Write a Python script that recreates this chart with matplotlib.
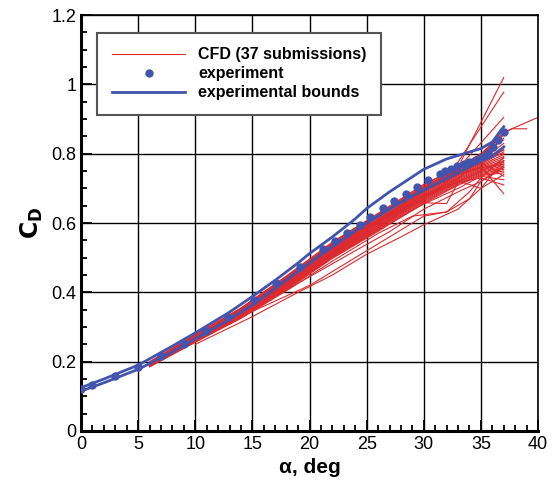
import matplotlib
matplotlib.use("Agg")
import matplotlib.pyplot as plt
from matplotlib.ticker import MultipleLocator

plt.rcParams['font.family'] = ['Liberation Sans', 'DejaVu Sans']

# experiment
exp_alpha = [0.0, 1.0, 3.0, 5.0, 7.0, 9.0, 10.9, 12.9, 15.1, 17.1, 19.2, 21.2, 22.2, 23.3,
             24.4, 25.3, 26.4, 27.4, 28.4, 29.4, 30.4, 31.4, 31.9, 32.4, 32.9, 33.5, 34.0,
             34.6, 35.1, 35.6, 36.1, 36.5, 37.0]
exp_cd = [0.120, 0.132, 0.158, 0.184, 0.215, 0.252, 0.288, 0.330, 0.378, 0.426, 0.472, 0.525,
          0.549, 0.570, 0.594, 0.618, 0.642, 0.663, 0.685, 0.704, 0.723, 0.741, 0.749, 0.757,
          0.764, 0.769, 0.776, 0.783, 0.790, 0.803, 0.819, 0.839, 0.862]

# experimental bounds
up_alpha = [0, 2, 5, 8, 10, 13, 15, 17, 19, 20, 22, 24, 25, 27, 30, 32, 34, 35, 36, 36.8, 37]
up_cd = [0.125, 0.150, 0.190, 0.245, 0.283, 0.343, 0.388, 0.435, 0.485, 0.512, 0.560, 0.612,
         0.642, 0.690, 0.755, 0.785, 0.805, 0.815, 0.834, 0.870, 0.878]
lo_alpha = [0, 2, 5, 8, 10, 13, 15, 17, 20, 22, 25, 28, 30, 33, 35, 36, 37]
lo_cd = [0.115, 0.139, 0.178, 0.228, 0.266, 0.322, 0.364, 0.412, 0.485, 0.532, 0.600, 0.660,
         0.695, 0.745, 0.780, 0.792, 0.820]

# CFD submissions, common alpha grid
cfd_alpha = [6, 10, 14, 18, 22, 26, 30, 33, 35, 37]
cfd_cd = [
    [0.200, 0.278, 0.355, 0.448, 0.545, 0.628, 0.712, 0.760, 0.790, 0.855],
    [0.199, 0.276, 0.354, 0.446, 0.543, 0.626, 0.709, 0.762, 0.795, 0.868],
    [0.198, 0.275, 0.352, 0.444, 0.540, 0.624, 0.706, 0.756, 0.786, 0.845],
    [0.197, 0.273, 0.350, 0.441, 0.538, 0.622, 0.703, 0.758, 0.800, 0.840],
    [0.196, 0.272, 0.349, 0.440, 0.536, 0.620, 0.700, 0.752, 0.780, 0.830],
    [0.195, 0.271, 0.347, 0.438, 0.534, 0.618, 0.699, 0.750, 0.782, 0.810],
    [0.195, 0.270, 0.346, 0.437, 0.532, 0.616, 0.697, 0.748, 0.776, 0.820],
    [0.194, 0.268, 0.344, 0.434, 0.529, 0.612, 0.693, 0.745, 0.772, 0.812],
    [0.193, 0.267, 0.342, 0.431, 0.526, 0.609, 0.690, 0.742, 0.770, 0.805],
    [0.192, 0.266, 0.340, 0.428, 0.523, 0.606, 0.687, 0.739, 0.767, 0.798],
    [0.191, 0.265, 0.338, 0.426, 0.520, 0.603, 0.684, 0.736, 0.764, 0.792],
    [0.190, 0.264, 0.337, 0.424, 0.518, 0.600, 0.681, 0.733, 0.761, 0.786],
    [0.190, 0.263, 0.335, 0.422, 0.515, 0.597, 0.678, 0.730, 0.758, 0.780],
    [0.189, 0.262, 0.334, 0.420, 0.513, 0.594, 0.675, 0.727, 0.755, 0.775],
    [0.188, 0.261, 0.332, 0.418, 0.510, 0.591, 0.672, 0.724, 0.752, 0.770],
    [0.188, 0.260, 0.331, 0.416, 0.508, 0.588, 0.669, 0.721, 0.749, 0.765],
    [0.187, 0.259, 0.330, 0.414, 0.505, 0.585, 0.666, 0.718, 0.746, 0.760],
    [0.186, 0.258, 0.328, 0.412, 0.503, 0.582, 0.663, 0.715, 0.743, 0.755],
    [0.186, 0.257, 0.327, 0.410, 0.500, 0.579, 0.660, 0.712, 0.740, 0.750],
    [0.185, 0.256, 0.326, 0.408, 0.498, 0.576, 0.657, 0.709, 0.737, 0.745],
    [0.192, 0.266, 0.339, 0.425, 0.517, 0.598, 0.676, 0.722, 0.700, 0.780],
    [0.190, 0.262, 0.333, 0.417, 0.508, 0.588, 0.668, 0.745, 0.775, 0.735],
    [0.194, 0.269, 0.343, 0.430, 0.524, 0.604, 0.680, 0.728, 0.790, 0.800],
    [0.189, 0.260, 0.330, 0.413, 0.502, 0.580, 0.655, 0.700, 0.735, 0.725],
    [0.196, 0.272, 0.346, 0.433, 0.527, 0.610, 0.692, 0.740, 0.760, 0.770],
]

# CFD submissions with their own alpha points
odd_alpha = [
    [6, 10, 15, 20, 25, 28, 30, 32, 34, 35, 37],
    [10, 15, 19, 22, 25, 28, 30, 33, 35, 37],
    [6, 10, 14, 18, 22, 26, 29, 32, 33, 35, 37],
    [6, 10, 14, 18, 22, 26, 29, 32, 34, 35, 37],
    [6, 10, 14, 18, 22, 26, 30, 32.7, 37],
    [6, 10, 14, 18, 22, 26, 30, 31.5, 37],
    [6, 10, 14, 18, 22, 26, 30, 33, 37],
    [6, 10, 14, 18, 22, 26, 30, 33, 35, 37, 37.7, 40],
    [6, 10, 14, 18, 22, 26, 30, 33, 35, 37, 37.7, 39],
    [6, 10, 14, 18, 22, 26, 30, 33, 35, 37],
    [8, 12, 16, 20, 24, 27, 30, 33, 35, 37],
    [6, 10, 14, 18, 22, 26, 30, 33, 35, 37],
]
odd_cd = [
    [0.190, 0.260, 0.345, 0.420, 0.520, 0.580, 0.620, 0.632, 0.670, 0.720, 0.760],
    [0.250, 0.330, 0.400, 0.450, 0.510, 0.560, 0.595, 0.640, 0.700, 0.740],
    [0.190, 0.262, 0.330, 0.412, 0.500, 0.585, 0.660, 0.656, 0.718, 0.750, 0.780],
    [0.188, 0.258, 0.325, 0.405, 0.490, 0.570, 0.620, 0.632, 0.690, 0.730, 0.790],
    [0.192, 0.266, 0.340, 0.428, 0.520, 0.605, 0.690, 0.742, 1.020],
    [0.191, 0.264, 0.337, 0.424, 0.516, 0.600, 0.682, 0.700, 0.978],
    [0.193, 0.267, 0.342, 0.430, 0.524, 0.608, 0.692, 0.758, 0.905],
    [0.197, 0.273, 0.350, 0.442, 0.538, 0.621, 0.703, 0.760, 0.800, 0.862, 0.872, 0.905],
    [0.196, 0.272, 0.348, 0.439, 0.535, 0.618, 0.700, 0.755, 0.795, 0.858, 0.872, 0.872],
    [0.194, 0.269, 0.345, 0.435, 0.530, 0.612, 0.694, 0.740, 0.762, 0.685],
    [0.225, 0.295, 0.370, 0.445, 0.520, 0.575, 0.640, 0.690, 0.720, 0.765],
    [0.191, 0.264, 0.336, 0.422, 0.512, 0.592, 0.672, 0.718, 0.730, 0.710],
]

red = '#dc2a2e'
blue = '#4254ae'

fig = plt.figure(figsize=(5.56, 4.87), dpi=100)
ax = fig.add_axes([0.1457, 0.115, 0.822, 0.854])

for i, cd in enumerate(cfd_cd):
    ax.plot(cfd_alpha, cd, color=red, lw=0.8,
            label='CFD (37 submissions)' if i == 0 else None)
for a, cd in zip(odd_alpha, odd_cd):
    ax.plot(a, cd, color=red, lw=0.8)

ax.plot(exp_alpha, exp_cd, 'o', color=blue, ms=5, label='experiment', zorder=5)
ax.plot(up_alpha, up_cd, color=blue, lw=2, label='experimental bounds', zorder=4)
ax.plot(lo_alpha, lo_cd, color=blue, lw=2, zorder=4)

ax.set_xlim(0, 40)
ax.set_ylim(0, 1.2)
ax.xaxis.set_major_locator(MultipleLocator(5))
ax.xaxis.set_minor_locator(MultipleLocator(1))
ax.yaxis.set_minor_locator(MultipleLocator(0.05))
ax.set_yticks([0, 0.2, 0.4, 0.6, 0.8, 1.0, 1.2])
ax.set_yticklabels(['0', '0.2', '0.4', '0.6', '0.8', '1', '1.2'])
ax.tick_params(which='both', direction='in', labelsize=13, width=1.3)
ax.tick_params(which='major', length=8)
ax.tick_params(which='minor', length=4)
ax.grid(True, which='major', color='black', lw=1)
for s in ax.spines.values():
    s.set_linewidth(1.2)
ax.spines['left'].set_linewidth(2.2)
ax.spines['bottom'].set_linewidth(2.2)

ax.set_xlabel('α, deg', fontsize=15, fontweight='bold')
ax.set_ylabel(r'$\mathbf{C_D}$', fontsize=17, fontweight='bold')

leg = ax.legend(loc='upper left', bbox_to_anchor=(0.036, 0.957),
                prop={'weight': 'bold', 'size': 11.5}, handlelength=4.6, labelspacing=0.25,
                handletextpad=0.8, fancybox=False, framealpha=1, borderpad=0.9,
                borderaxespad=0, shadow=False)
leg.get_frame().set_edgecolor('#555555')
leg.get_frame().set_linewidth(1.5)

fig.savefig('out.png', dpi=100)
